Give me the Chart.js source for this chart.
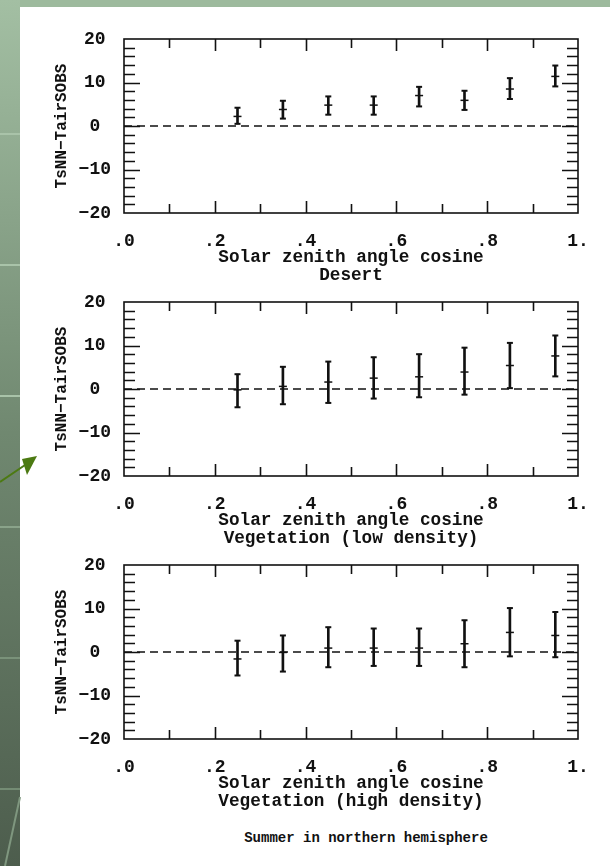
<!DOCTYPE html>
<html>
<head>
<meta charset="utf-8">
<script src="https://cdn.jsdelivr.net/npm/chart.js@4.4.0/dist/chart.umd.min.js"></script>
<style>
  body { margin: 0; width: 610px; height: 866px; position: relative; overflow: hidden; background: #9dba9d; }
  #strip { position: absolute; left: 0; top: 0; width: 20px; height: 866px; background: linear-gradient(#a3bfa3, #708870 50%, #4d5d4d); }
  #panel { position: absolute; left: 20px; top: 7px; width: 590px; height: 859px; background: #fff; }
  .box { position: absolute; left: 0; width: 610px; height: 290px; }
  #caption { position: absolute; left: 166px; width: 400px; top: 829px; text-align: center;
             font: bold 14px "Liberation Mono", monospace; color: #111; line-height: 18px; }
  #deco { position: absolute; left: 0; top: 0; }
</style>
</head>
<body>
<div id="strip"></div>
<div id="panel"></div>
<div class="box" style="top:0px"><canvas id="c1" width="610" height="290"></canvas></div>
<div class="box" style="top:263px"><canvas id="c2" width="610" height="290"></canvas></div>
<div class="box" style="top:526px"><canvas id="c3" width="610" height="290"></canvas></div>
<div id="caption">Summer in northern hemisphere</div>
<svg id="deco" width="610" height="866">
  <g stroke="#a9c3a9" stroke-width="2">
    <line x1="0" y1="134" x2="20" y2="134"/>
    <line x1="0" y1="265" x2="20" y2="265"/>
    <line x1="0" y1="396" x2="20" y2="396"/>
    <line x1="0" y1="527" x2="20" y2="527" stroke="#8aa38a"/>
    <line x1="0" y1="658" x2="20" y2="658" stroke="#7a927a"/>
    <line x1="0" y1="789" x2="20" y2="789" stroke="#748c74"/>
    <line x1="20" y1="797" x2="5" y2="866" stroke="#7f977f"/>
  </g>
  <line x1="0" y1="482" x2="28" y2="463" stroke="#4c7a12" stroke-width="2"/>
  <polygon points="37,456 22,459 27,475" fill="#4c7a12"/>
</svg>

<script>
// cosseno do ângulo zenital (centros das classes)
const xs = [0.25, 0.35, 0.45, 0.55, 0.65, 0.75, 0.85, 0.95];
const xTickLabels = ['.0', '.2', '.4', '.6', '.8', '1.'];
const yTickLabels = ['\u221220', '\u221210', '0', '10', '20'];

// Deserto
const desertMean = [2.2, 3.8, 4.8, 4.8, 7.0, 5.9, 8.5, 11.4];
const desertLow  = [0.5, 1.7, 2.6, 2.6, 4.5, 3.7, 6.2, 9.1];
const desertHigh = [4.2, 5.8, 6.8, 6.8, 9.0, 8.1, 11.0, 13.9];

// Vegetação (baixa densidade)
const lowVegMean = [-0.2, 0.6, 1.6, 2.5, 2.8, 3.9, 5.4, 7.6];
const lowVegLow  = [-4.2, -3.5, -3.2, -2.2, -1.9, -1.3, 0.2, 2.9];
const lowVegHigh = [3.4, 5.1, 6.3, 7.3, 8.0, 9.5, 10.6, 12.3];

// Vegetação (alta densidade)
const highVegMean = [-1.6, -0.1, 0.9, 0.9, 0.9, 1.9, 4.5, 3.8];
const highVegLow  = [-5.4, -4.5, -3.5, -3.2, -3.2, -3.5, -1.0, -1.2];
const highVegHigh = [2.6, 3.8, 5.7, 5.4, 5.4, 7.3, 10.1, 9.2];

const INK = '#111';
const FONT = '"Liberation Mono", monospace';

// moldura e marcas internas nos quatro lados
const frameTicks = {
  id: 'frameTicks',
  afterDatasetsDraw(chart) {
    const { ctx, chartArea: a, scales: { x, y } } = chart;
    ctx.save();
    ctx.strokeStyle = INK;
    ctx.lineWidth = 1.6;
    ctx.strokeRect(a.left, a.top, a.right - a.left, a.bottom - a.top);
    ctx.beginPath();
    for (let k = 1; k < 10; k++) {
      const px = Math.round(x.getPixelForValue(k / 10)) + 0.5;
      const len = k % 2 === 0 ? 12 : 9;
      ctx.moveTo(px, a.bottom); ctx.lineTo(px, a.bottom - len);
      ctx.moveTo(px, a.top); ctx.lineTo(px, a.top + len);
    }
    for (let v = -18; v <= 18; v += 2) {
      const py = Math.round(y.getPixelForValue(v)) + 0.5;
      const len = v % 10 === 0 ? 16 : 11;
      ctx.moveTo(a.left, py); ctx.lineTo(a.left + len, py);
      ctx.moveTo(a.right, py); ctx.lineTo(a.right - len, py);
    }
    ctx.stroke();
    ctx.restore();
  }
};

function makePanel(id, mean, low, high, subtitle) {
  new Chart(document.getElementById(id), {
    type: 'scatter',
    data: {
      datasets: [
        {
          type: 'line',
          data: [{ x: 0, y: 0 }, { x: 1, y: 0 }],
          borderColor: INK, borderWidth: 1.5, borderDash: [8, 5],
          pointRadius: 0
        },
        {
          type: 'bar',
          data: xs.map((x, i) => ({ x: x, y: [low[i], high[i]] })),
          backgroundColor: INK, borderWidth: 0, barThickness: 2
        },
        {
          data: xs.flatMap((x, i) => [{ x: x, y: low[i] }, { x: x, y: high[i] }]),
          pointStyle: 'line', pointRadius: 3, borderColor: INK, borderWidth: 2
        },
        {
          data: xs.map((x, i) => ({ x: x, y: mean[i] })),
          pointStyle: 'line', pointRadius: 4, borderColor: INK, borderWidth: 1.5
        }
      ]
    },
    options: {
      responsive: false,
      animation: false,
      devicePixelRatio: 1,
      events: [],
      layout: { padding: { left: 40, top: 39, right: 32, bottom: 0 } },
      plugins: { legend: { display: false }, tooltip: { enabled: false } },
      scales: {
        x: {
          type: 'linear', min: 0, max: 1, offset: false,
          grid: { display: false, drawTicks: false }, border: { display: false },
          ticks: {
            stepSize: 0.2, padding: 18, autoSkip: false, maxRotation: 0,
            color: INK, font: { family: FONT, size: 18, weight: 'bold' },
            callback: (v, i) => xTickLabels[i]
          },
          title: {
            display: true, text: ['Solar zenith angle cosine', subtitle], color: INK,
            font: { family: FONT, size: 17.7, weight: 'bold', lineHeight: 1.0 },
            padding: { top: 0, bottom: 6 }
          },
          afterFit: s => { s.height = 77; }
        },
        y: {
          min: -20, max: 20,
          grid: { display: false, drawTicks: false }, border: { display: false },
          ticks: {
            stepSize: 10, padding: 13, crossAlign: 'center',
            color: INK, font: { family: FONT, size: 18, weight: 'bold' },
            callback: (v, i) => yTickLabels[i]
          },
          title: {
            display: true, text: 'TsNN\u2212TairSOBS', color: INK,
            font: { family: FONT, size: 16, weight: 'bold' },
            padding: { top: 12, bottom: 0 }
          },
          afterFit: s => { s.width = 84; }
        }
      }
    },
    plugins: [frameTicks]
  });
}

makePanel('c1', desertMean, desertLow, desertHigh, 'Desert');
makePanel('c2', lowVegMean, lowVegLow, lowVegHigh, 'Vegetation (low density)');
makePanel('c3', highVegMean, highVegLow, highVegHigh, 'Vegetation (high density)');
</script>
</body>
</html>
